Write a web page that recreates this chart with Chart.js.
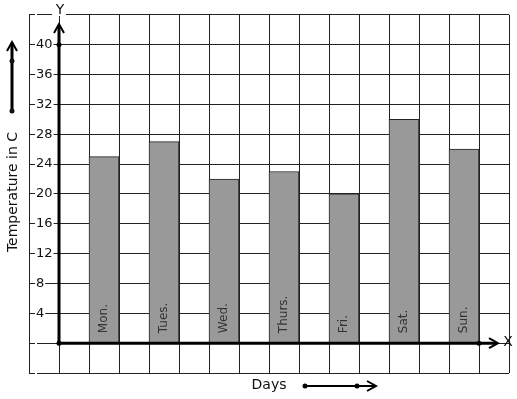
<!DOCTYPE html>
<html>
<head>
<meta charset="utf-8">
<script src="https://cdn.jsdelivr.net/npm/chart.js@4.4.1/dist/chart.umd.min.js"></script>
<style>
  html, body { margin: 0; padding: 0; background: #fff; }
  #wrap { width: 517px; height: 399px; }
</style>
</head>
<body>
<div id="wrap"><canvas id="chart" width="517" height="399"></canvas></div>
<script>
// Days and their temperatures
const days = ['Mon.', 'Tues.', 'Wed.', 'Thurs.', 'Fri.', 'Sat.', 'Sun.'];
const temps = [25, 27, 22, 23, 20, 30, 26];
// y ticks that get a label
const yTickLabels = [4, 8, 12, 16, 20, 24, 28, 32, 36, 40];

// graph paper: 16 columns, one empty column left of the y-axis,
// then each day sits in every second column
const cells = [];
const cellValues = [];
for (let i = 0; i < 16; i++) {
    const d = (i - 2) / 2;
    if (i >= 2 && i % 2 === 0 && d < days.length) {
        cells.push(days[d]);
        cellValues.push(temps[d]);
    } else {
        cells.push('');
        cellValues.push(null);
    }
}

const ink = '#222';

function arrowHead(ctx, tipX, tipY, dir) {
    ctx.beginPath();
    if (dir === 'up') {
        ctx.moveTo(tipX - 5, tipY + 9);
        ctx.lineTo(tipX, tipY);
        ctx.lineTo(tipX + 5, tipY + 9);
    } else {
        ctx.moveTo(tipX - 9, tipY - 5);
        ctx.lineTo(tipX, tipY);
        ctx.lineTo(tipX - 9, tipY + 5);
    }
    ctx.stroke();
}

function dot(ctx, x, y) {
    ctx.beginPath();
    ctx.arc(x, y, 2.5, 0, Math.PI * 2);
    ctx.fill();
}

// axes, arrows and text labels drawn on top of the grid
const decorations = {
    id: 'decorations',
    afterDraw(chart) {
        const ctx = chart.ctx;
        const xs = chart.scales.x;
        const ys = chart.scales.y;
        const ox = (xs.getPixelForValue(0) + xs.getPixelForValue(1)) / 2;
        const oy = ys.getPixelForValue(0);
        ctx.save();
        ctx.fillStyle = '#000';
        ctx.strokeStyle = '#000';
        ctx.lineCap = 'butt';

        // day names inside bars
        const meta = chart.getDatasetMeta(0);
        ctx.font = '12px "DejaVu Sans"';
        ctx.fillStyle = '#333';
        ctx.textAlign = 'left';
        ctx.textBaseline = 'middle';
        meta.data.forEach((bar, i) => {
            if (cellValues[i] === null) return;
            ctx.save();
            ctx.translate(bar.x, oy - 10);
            ctx.rotate(-Math.PI / 2);
            ctx.fillText(cells[i], 0, 0);
            ctx.restore();
        });
        ctx.fillStyle = '#000';

        // y axis
        ctx.lineWidth = 3;
        ctx.beginPath();
        ctx.moveTo(ox, oy);
        ctx.lineTo(ox, 25);
        ctx.stroke();
        ctx.lineWidth = 2;
        arrowHead(ctx, ox, 24, 'up');
        dot(ctx, ox, ys.getPixelForValue(40));

        // x axis
        ctx.lineWidth = 3;
        ctx.beginPath();
        ctx.moveTo(ox, oy);
        ctx.lineTo(496, oy);
        ctx.stroke();
        ctx.lineWidth = 2;
        arrowHead(ctx, 498, oy, 'right');
        dot(ctx, ox, oy);
        dot(ctx, (xs.getPixelForValue(14) + xs.getPixelForValue(15)) / 2, oy);

        // axis letters
        ctx.font = '14px "DejaVu Sans"';
        ctx.textAlign = 'center';
        ctx.textBaseline = 'middle';
        ctx.fillStyle = '#fff';
        ctx.fillRect(ox - 7, 4, 14, 12);
        ctx.fillStyle = '#111';
        ctx.fillText('Y', ox + 1, 10);
        ctx.fillText('X', 508, oy - 1);

        // y title with its arrow
        ctx.save();
        ctx.translate(13, 192);
        ctx.rotate(-Math.PI / 2);
        ctx.fillText('Temperature in C', 0, 0);
        ctx.restore();
        ctx.lineWidth = 3;
        ctx.beginPath();
        ctx.moveTo(12, 111);
        ctx.lineTo(12, 43);
        ctx.stroke();
        ctx.lineWidth = 2;
        arrowHead(ctx, 12, 42, 'up');
        dot(ctx, 12, 61);
        dot(ctx, 12, 111);

        // x title with its arrow
        ctx.fillStyle = '#111';
        ctx.fillText('Days', 269, 385);
        ctx.fillStyle = '#000';
        ctx.lineWidth = 2;
        ctx.beginPath();
        ctx.moveTo(305, 386);
        ctx.lineTo(375, 386);
        ctx.stroke();
        arrowHead(ctx, 376, 386, 'right');
        dot(ctx, 305, 386);
        dot(ctx, 357, 386);
        ctx.restore();
    }
};

new Chart(document.getElementById('chart'), {
    type: 'bar',
    data: {
        labels: cells,
        datasets: [{
            data: cellValues,
            backgroundColor: '#999999',
            borderColor: ink,
            borderWidth: 1,
            borderSkipped: 'start',
            barPercentage: 1,
            categoryPercentage: 1
        }]
    },
    options: {
        responsive: false,
        animation: false,
        layout: { padding: { left: 29, right: 8, top: 13, bottom: 26 } },
        plugins: {
            legend: { display: false },
            tooltip: { enabled: false }
        },
        scales: {
            x: {
                offset: true,
                grid: { color: ink, lineWidth: 1, offset: true, drawTicks: false },
                border: { display: false },
                ticks: { display: false },
                afterFit: s => { s.height = 0; }
            },
            y: {
                min: -4,
                max: 44,
                grid: { color: ink, lineWidth: 1, drawTicks: false },
                border: { display: false },
                afterFit: s => { s.width = 0; },
                ticks: {
                    stepSize: 4,
                    mirror: true,
                    padding: 7,
                    color: '#111',
                    font: { family: 'DejaVu Sans', size: 13 },
                    showLabelBackdrop: true,
                    backdropColor: '#fff',
                    backdropPadding: { top: 0, bottom: 0, left: 1, right: 1 },
                    callback: v => yTickLabels.includes(v) ? String(v) : ''
                }
            }
        }
    },
    plugins: [decorations]
});
</script>
</body>
</html>
